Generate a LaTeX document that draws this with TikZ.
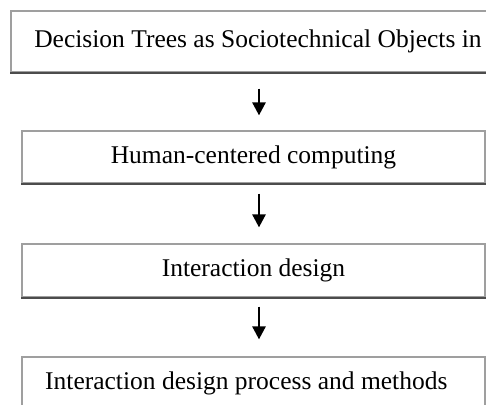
\documentclass[tikz,border=0pt]{standalone}
\usepackage{fontspec}
\setmainfont{Liberation Serif}
\usetikzlibrary{arrows.meta}
\begin{document}
\begin{tikzpicture}[x=1pt,y=1pt,
  box/.style={draw=gray!75, line width=1.2pt, rectangle, inner sep=0pt, font=\fontsize{25.5}{30}\selectfont},
  txt/.style={inner sep=0pt, font=\fontsize{25.5}{30}\selectfont},
  shade/.style={draw=gray!60!black, line width=2pt},
  arr/.style={line width=2.6pt, -{Triangle[width=13pt,length=13pt]}}]
\useasboundingbox (0,0) rectangle (486,-404);
\clip (0,0) rectangle (486,-404);
\coordinate (ax) at (259,0);
\node[box, minimum width=494pt, minimum height=61pt] (b1) at (258,-41.5) {Decision Trees as Sociotechnical Objects in};
\node[box, minimum width=463pt, minimum height=52pt] (b2) at (253.5,-157) {Human-centered computing};
\node[box, minimum width=463pt, minimum height=53pt] (b3) at (253.5,-270.5) {Interaction design};
\node[box, minimum width=463pt, minimum height=64pt] (b4) at (253.5,-389) {};
\node[txt, anchor=west] (t4) at (45,-383) {Interaction design process and methods};
\draw[shade] (b1.south west) -- (b1.south east);
\draw[shade] (b2.south west) -- (b2.south east);
\draw[shade] (b3.south west) -- (b3.south east);
\draw[arr] ([yshift=-16pt]b1.south -| ax) -- ([yshift=15pt]b2.north -| ax);
\draw[arr] ([yshift=-10pt]b2.south -| ax) -- ([yshift=16pt]b3.north -| ax);
\draw[arr] ([yshift=-9pt]b3.south -| ax) -- ([yshift=17pt]b4.north -| ax);
\end{tikzpicture}
\end{document}
